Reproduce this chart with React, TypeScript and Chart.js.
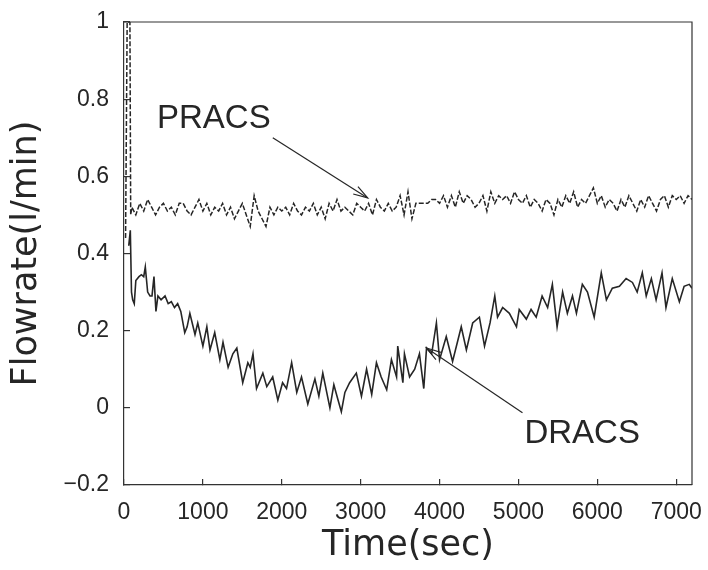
import React, { useEffect, useRef } from 'react';
import { Chart, registerables } from 'chart.js';
Chart.register(...registerables);

// DRACS (solid line)
const dracsTime = [60, 80, 95, 110, 130, 150, 190, 220, 250, 270, 300, 330, 355, 380, 405, 430, 470, 520, 560, 600, 640, 680, 720, 770, 800, 835, 900, 935, 1000, 1050, 1090, 1150, 1215, 1255, 1320, 1380, 1430, 1505, 1570, 1600, 1635, 1680, 1760, 1810, 1885, 1950, 2010, 2060, 2125, 2190, 2250, 2330, 2420, 2470, 2520, 2610, 2660, 2700, 2755, 2800, 2860, 2945, 3010, 3075, 3140, 3200, 3260, 3330, 3390, 3455, 3470, 3535, 3555, 3620, 3685, 3745, 3800, 3835, 3900, 3960, 4000, 4085, 4165, 4275, 4340, 4420, 4505, 4570, 4640, 4700, 4735, 4800, 4885, 4975, 5010, 5100, 5160, 5225, 5300, 5370, 5430, 5490, 5560, 5620, 5685, 5735, 5810, 5875, 5960, 6050, 6115, 6190, 6280, 6365, 6445, 6505, 6570, 6620, 6685, 6745, 6820, 6870, 6950, 7040, 7100, 7165, 7200];
const dracsFlow = [0.42, 0.46, 0.30, 0.28, 0.27, 0.33, 0.34, 0.345, 0.34, 0.365, 0.30, 0.29, 0.29, 0.34, 0.25, 0.29, 0.28, 0.29, 0.27, 0.275, 0.26, 0.27, 0.25, 0.195, 0.21, 0.245, 0.19, 0.22, 0.16, 0.21, 0.15, 0.195, 0.125, 0.17, 0.105, 0.14, 0.155, 0.065, 0.117, 0.105, 0.14, 0.05, 0.09, 0.055, 0.08, 0.02, 0.065, 0.05, 0.117, 0.04, 0.08, 0.01, 0.075, 0.03, 0.09, 0.0, 0.06, 0.03, -0.01, 0.04, 0.065, 0.09, 0.03, 0.10, 0.035, 0.117, 0.08, 0.047, 0.125, 0.08, 0.16, 0.065, 0.14, 0.08, 0.10, 0.14, 0.05, 0.155, 0.14, 0.22, 0.125, 0.185, 0.12, 0.21, 0.15, 0.22, 0.235, 0.16, 0.22, 0.29, 0.235, 0.26, 0.245, 0.21, 0.255, 0.23, 0.255, 0.235, 0.29, 0.26, 0.32, 0.21, 0.30, 0.245, 0.29, 0.245, 0.32, 0.30, 0.235, 0.35, 0.28, 0.31, 0.315, 0.335, 0.325, 0.30, 0.35, 0.29, 0.335, 0.28, 0.35, 0.26, 0.335, 0.275, 0.315, 0.32, 0.31];

// PRACS (dashed line)
const pracsTime = [20, 40, 75, 85, 100, 150, 200, 250, 300, 350, 400, 450, 500, 550, 600, 650, 700, 750, 800, 850, 900, 950, 1000, 1050, 1100, 1150, 1200, 1250, 1300, 1350, 1400, 1450, 1500, 1550, 1600, 1650, 1700, 1750, 1800, 1850, 1900, 1950, 2000, 2050, 2100, 2150, 2200, 2250, 2300, 2350, 2400, 2450, 2500, 2550, 2600, 2650, 2700, 2750, 2800, 2850, 2900, 2950, 3000, 3050, 3100, 3150, 3200, 3250, 3300, 3350, 3400, 3450, 3500, 3550, 3600, 3650, 3700, 3750, 3800, 3850, 3900, 3950, 4000, 4050, 4100, 4150, 4200, 4250, 4300, 4350, 4400, 4450, 4500, 4550, 4600, 4650, 4700, 4750, 4800, 4850, 4900, 4950, 5000, 5050, 5100, 5150, 5200, 5250, 5300, 5350, 5400, 5450, 5500, 5550, 5600, 5650, 5700, 5750, 5800, 5850, 5900, 5950, 6000, 6050, 6100, 6150, 6200, 6250, 6300, 6350, 6400, 6450, 6500, 6550, 6600, 6650, 6700, 6750, 6800, 6850, 6900, 6950, 7000, 7050, 7100, 7150, 7200];
const pracsFlow = [0.44, 1.0, 1.0, 0.50, 0.52, 0.50, 0.53, 0.51, 0.54, 0.52, 0.50, 0.52, 0.53, 0.51, 0.52, 0.50, 0.53, 0.53, 0.51, 0.50, 0.52, 0.54, 0.51, 0.53, 0.50, 0.52, 0.51, 0.53, 0.50, 0.52, 0.49, 0.51, 0.53, 0.50, 0.47, 0.55, 0.51, 0.49, 0.47, 0.52, 0.50, 0.52, 0.51, 0.52, 0.50, 0.53, 0.51, 0.50, 0.52, 0.51, 0.53, 0.50, 0.52, 0.49, 0.53, 0.51, 0.54, 0.51, 0.52, 0.51, 0.50, 0.53, 0.52, 0.51, 0.53, 0.50, 0.54, 0.52, 0.51, 0.53, 0.51, 0.52, 0.55, 0.50, 0.56, 0.49, 0.53, 0.53, 0.53, 0.53, 0.54, 0.54, 0.53, 0.55, 0.52, 0.55, 0.52, 0.56, 0.53, 0.55, 0.54, 0.52, 0.53, 0.55, 0.51, 0.56, 0.53, 0.55, 0.54, 0.55, 0.53, 0.56, 0.54, 0.53, 0.55, 0.52, 0.54, 0.53, 0.51, 0.54, 0.53, 0.50, 0.54, 0.52, 0.55, 0.53, 0.56, 0.52, 0.54, 0.53, 0.55, 0.57, 0.53, 0.55, 0.52, 0.54, 0.53, 0.51, 0.54, 0.52, 0.55, 0.53, 0.51, 0.54, 0.52, 0.55, 0.53, 0.51, 0.54, 0.55, 0.52, 0.55, 0.54, 0.55, 0.53, 0.55, 0.54];

// Axis setup
const xMin = 0;
const xMax = 7200;
const xTickValues = [0, 1000, 2000, 3000, 4000, 5000, 6000, 7000];
const yMin = -0.2;
const yMax = 1;
const yTickValues = [-0.2, 0, 0.2, 0.4, 0.6, 0.8, 1];

// Annotations (data units)
const annotationLabels = ['PRACS', 'DRACS'];
const labelTime = [418, 5076];
const labelFlow = [0.725, -0.091];
const arrowFromTime = [1886, 5051];
const arrowFromFlow = [0.70, -0.013];
const arrowToTime = [3089, 3835];
const arrowToFlow = [0.544, 0.155];

const INK = '#262626';

const framePlugin = {
  id: 'frameAndArrows',
  afterDatasetsDraw(chart: any) {
    const { ctx, chartArea: a, scales } = chart;
    const x = scales.x;
    const y = scales.y;
    ctx.save();
    ctx.strokeStyle = '#333';
    ctx.lineWidth = 1.2;
    ctx.beginPath();
    ctx.moveTo(a.left, a.top);
    ctx.lineTo(a.right, a.top);
    ctx.lineTo(a.right, a.bottom);
    ctx.stroke();

    ctx.font = '33px "Liberation Sans", Arial, sans-serif';
    ctx.fillStyle = INK;
    ctx.textBaseline = 'alphabetic';
    ctx.textAlign = 'left';
    ctx.strokeStyle = INK;
    ctx.lineWidth = 1.2;
    annotationLabels.forEach((label, i) => {
      ctx.fillText(label, x.getPixelForValue(labelTime[i]), y.getPixelForValue(labelFlow[i]));
      const x1 = x.getPixelForValue(arrowFromTime[i]);
      const y1 = y.getPixelForValue(arrowFromFlow[i]);
      const x2 = x.getPixelForValue(arrowToTime[i]);
      const y2 = y.getPixelForValue(arrowToFlow[i]);
      ctx.beginPath();
      ctx.moveTo(x1, y1);
      ctx.lineTo(x2, y2);
      ctx.stroke();
      const ang = Math.atan2(y2 - y1, x2 - x1);
      const L = 15;
      const sp = 0.3;
      ctx.beginPath();
      ctx.moveTo(x2 - L * Math.cos(ang - sp), y2 - L * Math.sin(ang - sp));
      ctx.lineTo(x2, y2);
      ctx.lineTo(x2 - L * Math.cos(ang + sp), y2 - L * Math.sin(ang + sp));
      ctx.stroke();
    });
    ctx.restore();
  },
};

export default function App() {
  const ref = useRef<HTMLCanvasElement | null>(null);
  useEffect(() => {
    document.body.style.margin = '0';
    const canvas = ref.current;
    if (!canvas) return;
    const dracs = dracsTime.map((t, i) => ({ x: t, y: dracsFlow[i] }));
    const pracs = pracsTime.map((t, i) => ({ x: t, y: pracsFlow[i] }));
    const chart = new Chart(canvas, {
      type: 'line',
      data: {
        datasets: [
          {
            label: 'PRACS',
            data: pracs,
            borderColor: INK,
            borderWidth: 1.5,
            borderDash: [5, 2],
            pointRadius: 0,
            tension: 0,
            fill: false,
          },
          {
            label: 'DRACS',
            data: dracs,
            borderColor: INK,
            borderWidth: 1.6,
            pointRadius: 0,
            tension: 0,
            fill: false,
          },
        ],
      },
      options: {
        responsive: false,
        animation: false,
        layout: { padding: { top: 22, right: 16, left: 0, bottom: 0 } },
        plugins: { legend: { display: false }, tooltip: { enabled: false } },
        scales: {
          x: {
            type: 'linear',
            min: xMin,
            max: xMax,
            afterFit: (s: any) => {
              s.height = 85;
              s.paddingLeft = 0;
              s.paddingRight = 0;
            },
            afterBuildTicks: (s: any) => { s.ticks = xTickValues.map((v) => ({ value: v })); },
            ticks: {
              autoSkip: false,
              maxRotation: 0,
              padding: 20,
              color: INK,
              font: { family: '"Liberation Sans", Arial, sans-serif', size: 23 },
              callback: (v: any) => String(v),
            },
            grid: { drawOnChartArea: false, drawTicks: true, tickLength: -6, color: '#333', lineWidth: 1.2 },
            border: { display: true, color: '#333', width: 1.2 },
            title: {
              display: true,
              text: 'Time(sec)',
              color: INK,
              font: { family: '"DejaVu Sans", sans-serif', size: 35 },
              padding: { top: 0, bottom: 3 },
            },
          },
          y: {
            type: 'linear',
            min: yMin,
            max: yMax,
            afterFit: (s: any) => {
              s.width = 124;
              s.paddingTop = 0;
              s.paddingBottom = 0;
            },
            afterBuildTicks: (s: any) => { s.ticks = yTickValues.map((v) => ({ value: v })); },
            ticks: {
              autoSkip: false,
              padding: 21,
              color: INK,
              font: { family: '"Liberation Sans", Arial, sans-serif', size: 23 },
              callback: (v: any) => {
                const n = Math.round(Number(v) * 10) / 10;
                return n < 0 ? '\u2212' + Math.abs(n) : String(n);
              },
            },
            grid: { drawOnChartArea: false, drawTicks: true, tickLength: -6, color: '#333', lineWidth: 1.2 },
            border: { display: true, color: '#333', width: 1.2 },
            title: {
              display: true,
              text: 'Flowrate(l/min)',
              color: INK,
              font: { family: '"DejaVu Sans", sans-serif', size: 35 },
              padding: { top: 6, bottom: 0 },
            },
          },
        },
      },
      plugins: [framePlugin],
    });
    return () => chart.destroy();
  }, []);
  return (
    <div style={{ width: 708, height: 570 }}>
      <canvas ref={ref} width={708} height={570} style={{ display: 'block', width: 708, height: 570 }} />
    </div>
  );
}
